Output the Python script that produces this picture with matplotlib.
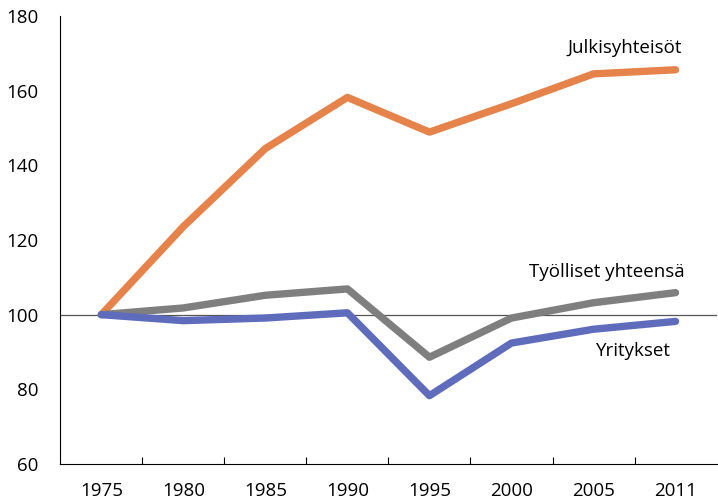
import matplotlib.pyplot as plt

# Index 1975 = 100
years = ["1975", "1980", "1985", "1990", "1995", "2000", "2005", "2011"]
julkisyhteisot = [100, 123.6, 144.5, 158.2, 148.9, 156.5, 164.5, 165.6]
tyolliset = [100, 101.8, 105.2, 106.9, 88.6, 99.1, 103.2, 105.9]
yritykset = [100, 98.4, 99.1, 100.5, 78.3, 92.4, 96.1, 98.2]

plt.rcParams['font.family'] = ['Open Sans', 'DejaVu Sans']

fig = plt.figure(figsize=(7.18, 5), dpi=100)
ax = fig.add_axes([0.084, 0.072, 0.914, 0.896])

x = range(len(years))
ax.axhline(100, color='#555555', linewidth=0.9, zorder=1)
ax.plot(x, julkisyhteisot, color='#E5834B', linewidth=5.3, solid_capstyle='round', zorder=3)
ax.plot(x, tyolliset, color='#7F7F7F', linewidth=5.3, solid_capstyle='round', zorder=3)
ax.plot(x, yritykset, color='#5F6CBC', linewidth=5.3, solid_capstyle='round', zorder=4)

ax.text(7.08, 171.5, "Julkisyhteisöt", fontsize=13.5, ha='right', va='center')
ax.text(7.11, 111.5, "Työlliset yhteensä", fontsize=13.5, ha='right', va='center')
ax.text(6.94, 90.3, "Yritykset", fontsize=13.5, ha='right', va='center')

ax.set_xlim(-0.5, len(years) - 0.5)
ax.set_ylim(60, 180)
ax.set_yticks(range(60, 181, 20))
ax.set_xticks(x)
ax.set_xticklabels(years)
ax.set_xticks([i + 0.5 for i in range(len(years) - 1)], minor=True)
ax.tick_params(axis='x', which='major', length=0, pad=13, labelsize=13.5)
ax.tick_params(axis='x', which='minor', length=5, direction='in', width=0.8)
ax.tick_params(axis='y', length=0, pad=16, labelsize=13.5)
ax.spines['top'].set_visible(False)
ax.spines['right'].set_visible(False)

plt.savefig("out.png", dpi=100)
